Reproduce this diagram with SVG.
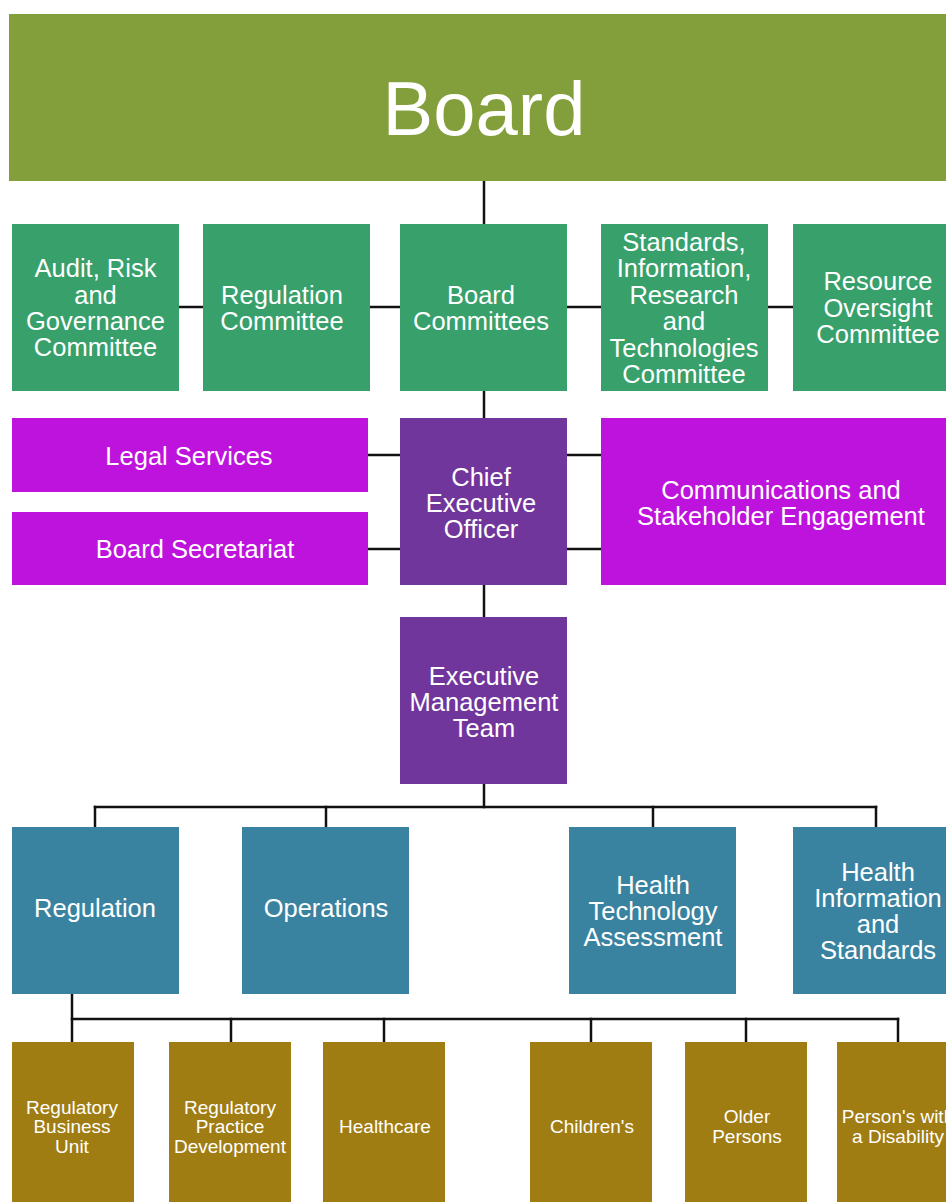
<svg xmlns="http://www.w3.org/2000/svg" width="946" height="1202" viewBox="0 0 946 1202">
  <style>
    .lbl { font-family: "Liberation Sans", Arial, sans-serif; fill: #ffffff; text-anchor: middle; }
    .big { font-size: 76px; }
    .md { font-size: 25.5px; }
    .sm { font-size: 19px; }
    .board { fill: #829f3b; }
    .cmt { fill: #37a06b; }
    .mag { fill: #be13dc; }
    .exec { fill: #71369c; }
    .div { fill: #3a83a0; }
    .unit { fill: #a07d13; }
    .conn line { stroke: #111111; stroke-width: 2.5; stroke-linecap: square; }
  </style>

  <rect width="946" height="1202" fill="#ffffff"/>

  <!-- connectors -->
  <g id="connectors" class="conn">
    <line x1="484" y1="181" x2="484" y2="224"/>
    <line x1="179" y1="307" x2="203" y2="307"/>
    <line x1="370" y1="307" x2="400" y2="307"/>
    <line x1="567" y1="307" x2="601" y2="307"/>
    <line x1="768" y1="307" x2="793" y2="307"/>
    <line x1="484" y1="391" x2="484" y2="418"/>
    <line x1="368" y1="455" x2="400" y2="455"/>
    <line x1="368" y1="549" x2="400" y2="549"/>
    <line x1="567" y1="455" x2="601" y2="455"/>
    <line x1="567" y1="549" x2="601" y2="549"/>
    <line x1="484" y1="585" x2="484" y2="617"/>
    <line x1="484" y1="784" x2="484" y2="807"/>
    <line x1="95" y1="807" x2="876" y2="807"/>
    <line x1="95" y1="807" x2="95" y2="827"/>
    <line x1="326" y1="807" x2="326" y2="827"/>
    <line x1="653" y1="807" x2="653" y2="827"/>
    <line x1="876" y1="807" x2="876" y2="827"/>
    <line x1="72" y1="994" x2="72" y2="1042"/>
    <line x1="72" y1="1019" x2="898" y2="1019"/>
    <line x1="231" y1="1019" x2="231" y2="1042"/>
    <line x1="384" y1="1019" x2="384" y2="1042"/>
    <line x1="591" y1="1019" x2="591" y2="1042"/>
    <line x1="746" y1="1019" x2="746" y2="1042"/>
    <line x1="898" y1="1019" x2="898" y2="1042"/>
  </g>

  <!-- top -->
  <g id="board">
    <rect class="board" x="9" y="14" width="950" height="167"/>
    <text class="lbl big" x="484" y="135">Board</text>
  </g>

  <!-- committees -->
  <g id="audit-risk">
    <rect class="cmt" x="12" y="224" width="167" height="167"/>
    <text class="lbl md"><tspan x="95.5" y="277">Audit, Risk</tspan><tspan x="95.5" y="304">and</tspan><tspan x="95.5" y="330">Governance</tspan><tspan x="95.5" y="356">Committee</tspan></text>
  </g>
  <g id="regulation-committee">
    <rect class="cmt" x="203" y="224" width="167" height="167"/>
    <text class="lbl md"><tspan x="282" y="304">Regulation</tspan><tspan x="282" y="330">Committee</tspan></text>
  </g>
  <g id="board-committees">
    <rect class="cmt" x="400" y="224" width="167" height="167"/>
    <text class="lbl md"><tspan x="481" y="304">Board</tspan><tspan x="481" y="330">Committees</tspan></text>
  </g>
  <g id="sirt-committee">
    <rect class="cmt" x="601" y="224" width="167" height="167"/>
    <text class="lbl md"><tspan x="684" y="251">Standards,</tspan><tspan x="684" y="277">Information,</tspan><tspan x="684" y="304">Research</tspan><tspan x="684" y="330">and</tspan><tspan x="684" y="357">Technologies</tspan><tspan x="684" y="383">Committee</tspan></text>
  </g>
  <g id="resource-oversight">
    <rect class="cmt" x="793" y="224" width="170" height="167"/>
    <text class="lbl md"><tspan x="878" y="290">Resource</tspan><tspan x="878" y="317">Oversight</tspan><tspan x="878" y="343">Committee</tspan></text>
  </g>

  <!-- executive office -->
  <g id="legal-services">
    <rect class="mag" x="12" y="418" width="356" height="74"/>
    <text class="lbl md" x="189" y="465">Legal Services</text>
  </g>
  <g id="board-secretariat">
    <rect class="mag" x="12" y="512" width="356" height="73"/>
    <text class="lbl md" x="195" y="558">Board Secretariat</text>
  </g>
  <g id="ceo">
    <rect class="exec" x="400" y="418" width="167" height="167"/>
    <text class="lbl md"><tspan x="481" y="486">Chief</tspan><tspan x="481" y="512">Executive</tspan><tspan x="481" y="538">Officer</tspan></text>
  </g>
  <g id="communications">
    <rect class="mag" x="601" y="418" width="360" height="167"/>
    <text class="lbl md"><tspan x="781" y="499">Communications and</tspan><tspan x="781" y="525">Stakeholder Engagement</tspan></text>
  </g>

  <g id="emt">
    <rect class="exec" x="400" y="617" width="167" height="167"/>
    <text class="lbl md"><tspan x="484" y="685">Executive</tspan><tspan x="484" y="711">Management</tspan><tspan x="484" y="737">Team</tspan></text>
  </g>

  <!-- directorates -->
  <g id="regulation">
    <rect class="div" x="12" y="827" width="167" height="167"/>
    <text class="lbl md" x="95" y="917">Regulation</text>
  </g>
  <g id="operations">
    <rect class="div" x="242" y="827" width="167" height="167"/>
    <text class="lbl md" x="326" y="917">Operations</text>
  </g>
  <g id="hta">
    <rect class="div" x="569" y="827" width="167" height="167"/>
    <text class="lbl md"><tspan x="653" y="894">Health</tspan><tspan x="653" y="920">Technology</tspan><tspan x="653" y="946">Assessment</tspan></text>
  </g>
  <g id="his">
    <rect class="div" x="793" y="827" width="170" height="167"/>
    <text class="lbl md"><tspan x="878" y="881">Health</tspan><tspan x="878" y="907">Information</tspan><tspan x="878" y="933">and</tspan><tspan x="878" y="959">Standards</tspan></text>
  </g>

  <!-- regulation units -->
  <g id="rbu">
    <rect class="unit" x="12" y="1042" width="122" height="170"/>
    <text class="lbl sm"><tspan x="72" y="1114">Regulatory</tspan><tspan x="72" y="1133">Business</tspan><tspan x="72" y="1153">Unit</tspan></text>
  </g>
  <g id="rpd">
    <rect class="unit" x="169" y="1042" width="122" height="170"/>
    <text class="lbl sm"><tspan x="230" y="1114">Regulatory</tspan><tspan x="230" y="1133">Practice</tspan><tspan x="230" y="1153">Development</tspan></text>
  </g>
  <g id="healthcare">
    <rect class="unit" x="323" y="1042" width="122" height="170"/>
    <text class="lbl sm" x="385" y="1133">Healthcare</text>
  </g>
  <g id="childrens">
    <rect class="unit" x="530" y="1042" width="122" height="170"/>
    <text class="lbl sm" x="592" y="1133">Children's</text>
  </g>
  <g id="older-persons">
    <rect class="unit" x="685" y="1042" width="122" height="170"/>
    <text class="lbl sm"><tspan x="747" y="1123">Older</tspan><tspan x="747" y="1143">Persons</tspan></text>
  </g>
  <g id="disability">
    <rect class="unit" x="837" y="1042" width="122" height="170"/>
    <text class="lbl sm"><tspan x="898" y="1123">Person's with</tspan><tspan x="898" y="1143">a Disability</tspan></text>
  </g>
</svg>
